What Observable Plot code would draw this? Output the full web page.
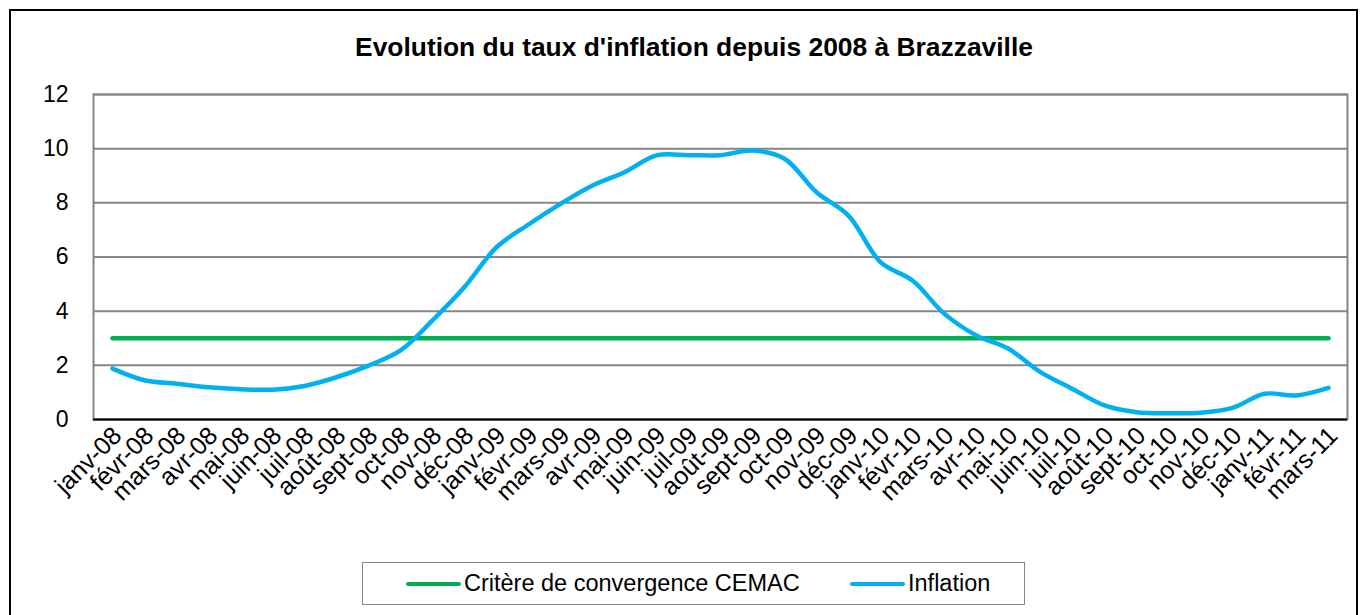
<!DOCTYPE html>
<html>
<head>
<meta charset="utf-8">
<script src="https://cdn.jsdelivr.net/npm/d3@7"></script>
<script src="https://cdn.jsdelivr.net/npm/@observablehq/plot@0.6"></script>
<style>
  html, body { margin: 0; padding: 0; background: #fff; }
  #wrap { position: relative; width: 1370px; height: 615px; overflow: hidden; font-family: "Liberation Sans", Arial, sans-serif; }
  #frame { position: absolute; left: 9px; top: 9px; width: 1349px; height: 700px; border: 2px solid #000; box-sizing: border-box; }
  #title { position: absolute; left: 0; top: 0; width: 1388px; height: 70px; line-height: 94px; text-align: center; font-weight: bold; font-size: 26.4px; color: #000; }
  #chart { position: absolute; left: 0; top: 70px; }
  #legend { position: absolute; left: 362px; top: 562px; width: 663px; height: 43px; border: 1px solid #888; box-sizing: border-box; font-size: 23.5px; color: #000; }
  .item { display: flex; align-items: center; position: absolute; top: 0; height: 41px; }
  .sw { width: 55px; height: 4px; border-radius: 2px; margin-right: 3px; }
</style>
</head>
<body>
<div id="wrap">
  <div id="frame"></div>
  <div id="title"></div>
  <div id="chart"></div>
  <div id="legend"></div>
</div>
<script>
const titleText = "Evolution du taux d'inflation depuis 2008 à Brazzaville";
const months = ["janv-08","févr-08","mars-08","avr-08","mai-08","juin-08","juil-08","août-08","sept-08","oct-08","nov-08","déc-08",
  "janv-09","févr-09","mars-09","avr-09","mai-09","juin-09","juil-09","août-09","sept-09","oct-09","nov-09","déc-09",
  "janv-10","févr-10","mars-10","avr-10","mai-10","juin-10","juil-10","août-10","sept-10","oct-10","nov-10","déc-10",
  "janv-11","févr-11","mars-11"];
const inflation = [1.88,1.45,1.32,1.19,1.12,1.10,1.24,1.56,1.99,2.55,3.66,4.89,
  6.36,7.20,7.96,8.64,9.13,9.75,9.76,9.76,9.93,9.63,8.39,7.53,
  5.81,5.13,3.90,3.10,2.61,1.75,1.13,0.52,0.27,0.23,0.25,0.43,
  0.95,0.89,1.17];
const critere = [3,3,3,3,3,3,3,3,3,3,3,3,3,3,3,3,3,3,3,3,3,3,3,3,3,3,3,3,3,3,3,3,3,3,3,3,3,3,3];
const yTicks = [0,2,4,6,8,10,12];
const seriesNames = ["Critère de convergence CEMAC","Inflation"];
const seriesColors = ["#00B050","#00B0F0"];

document.getElementById("title").textContent = titleText;

const inflData = months.map((m,i) => ({month: m, value: inflation[i]}));
const critData = months.map((m,i) => ({month: m, value: critere[i]}));

const chart = Plot.plot({
  width: 1370,
  height: 490,
  marginLeft: 93,
  marginRight: 23,
  marginTop: 24,
  marginBottom: 141,
  style: { fontFamily: "Liberation Sans, Arial, sans-serif", color: "#000", background: "transparent" },
  x: { type: "point", domain: months, padding: 0.44, label: null },
  y: { domain: [0, 12], ticks: yTicks, label: null },
  marks: [
    Plot.gridY(yTicks, { stroke: "#868686", strokeOpacity: 1, strokeWidth: 2 }),
    Plot.frame({ stroke: "#868686", strokeWidth: 2 }),
    Plot.ruleY([0], { stroke: "#000", strokeWidth: 2 }),
    Plot.axisY({ ticks: yTicks, tickSize: 0, tickPadding: 25, fontSize: 23, label: null }),
    Plot.axisX({ tickSize: 0, tickRotate: -45, tickPadding: 12, dx: 5, fontSize: 25, label: null }),
    Plot.line(critData, { x: "month", y: "value", stroke: seriesColors[0], strokeWidth: 4.5, strokeLinecap: "round" }),
    Plot.line(inflData, { x: "month", y: "value", stroke: seriesColors[1], strokeWidth: 4.5, strokeLinecap: "round", curve: "catmull-rom" })
  ]
});
document.getElementById("chart").appendChild(chart);

const legend = document.getElementById("legend");
const lefts = [43, 487];
seriesNames.forEach((name, i) => {
  const it = document.createElement("div");
  it.className = "item";
  it.style.left = lefts[i] + "px";
  const sw = document.createElement("div");
  sw.className = "sw";
  sw.style.background = seriesColors[i];
  const tx = document.createElement("span");
  tx.textContent = name;
  it.appendChild(sw); it.appendChild(tx);
  legend.appendChild(it);
});
</script>
</body>
</html>
